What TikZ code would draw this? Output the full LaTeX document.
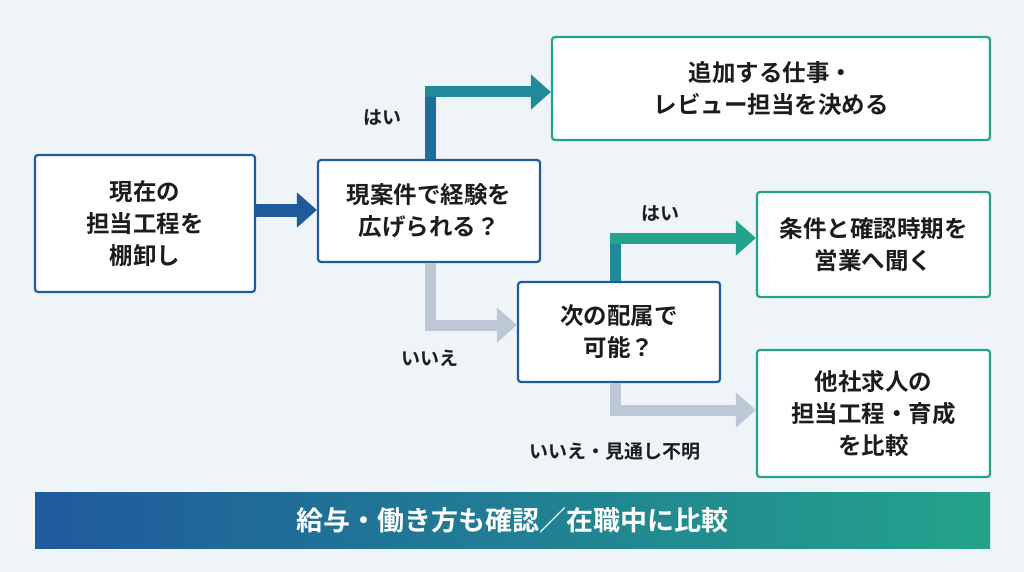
\documentclass[tikz,border=0pt]{standalone}
\usepackage{fontspec}
\setmainfont{Noto Sans CJK JP}[BoldFont={Noto Sans CJK JP Bold}]
\usetikzlibrary{arrows.meta,shadings}
\definecolor{bg}{HTML}{EEF4F7}
\definecolor{dblue}{HTML}{1F5A9C}
\definecolor{teal}{HTML}{23A38A}
\definecolor{mteal}{HTML}{1F8A9A}
\definecolor{lgray}{HTML}{BCC8D6}
\definecolor{txt}{HTML}{1C1C1C}
\begin{document}
\begin{tikzpicture}[x=1pt,y=-1pt,
  box/.style={draw=#1,line width=2.2pt,fill=white,rounded corners=3pt,align=center,font=\fontsize{23.5}{32}\selectfont\bfseries,text=txt,inner sep=0pt},
  conn/.style={line width=11pt,-{Triangle[length=20pt,width=34pt]},#1},
  lab/.style={font=\fontsize{19}{22}\selectfont\bfseries,text=txt}]
\fill[bg] (0,0) rectangle (1024,572);
\useasboundingbox (0,0) rectangle (1024,572);
\node[box=dblue,minimum width=220pt,minimum height=137pt] (A) at (145,223.5) {現在の\\担当工程を\\棚卸し};
\node[box=dblue,minimum width=222pt,minimum height=102pt] (B) at (429,211) {現案件で経験を\\広げられる？};
\node[box=teal,minimum width=438pt,minimum height=103pt] (C) at (771,88.5) {追加する仕事・\\レビュー担当を決める};
\node[box=dblue,minimum width=202pt,minimum height=100pt] (D) at (619,332) {次の配属で\\可能？};
\node[box=teal,minimum width=233pt,minimum height=105pt] (E) at (873.5,244.5) {条件と確認時期を\\営業へ聞く};
\node[box=teal,minimum width=233pt,minimum height=127pt] (F) at (873.5,413.5) {他社求人の\\担当工程・育成\\を比較};
\coordinate (c0) at (0,210);
\coordinate (c1) at (430,92);
\coordinate (c2) at (430,325);
\coordinate (c3) at (615,238);
\coordinate (c4) at (615,410);
\draw[conn=dblue,line width=13pt] (A.east |- c0) -- (B.west |- c0);
\draw[line width=11pt,dblue!60!mteal] (B.north -| c1) -- (c1);
\draw[conn=mteal,shorten <=-5.5pt] (c1) -- (C.west |- c1);
\draw[line width=11pt,lgray] (B.south -| c2) -- (c2);
\draw[conn=lgray,shorten <=-5.5pt] (c2) -- (D.west |- c2);
\draw[line width=11pt,mteal] (D.north -| c3) -- (c3);
\draw[conn=teal,shorten <=-5.5pt] (c3) -- (E.west |- c3);
\draw[line width=11pt,lgray] (D.south -| c4) -- (c4);
\draw[conn=lgray,shorten <=-5.5pt] (c4) -- (F.west |- c4);
\node[lab] (l1) at (382,118) {はい};
\node[lab] (l2) at (660,214) {はい};
\node[lab] (l3) at (430,358) {いいえ};
\node[lab] (l4) at (615,452) {いいえ・見通し不明};
\shade[left color=dblue,right color=teal] (35,492) rectangle (990,548);
\node[font=\fontsize{27}{30}\selectfont\bfseries,text=white] (ban) at (512,520) {給与・働き方も確認／在職中に比較};
\end{tikzpicture}
\end{document}
